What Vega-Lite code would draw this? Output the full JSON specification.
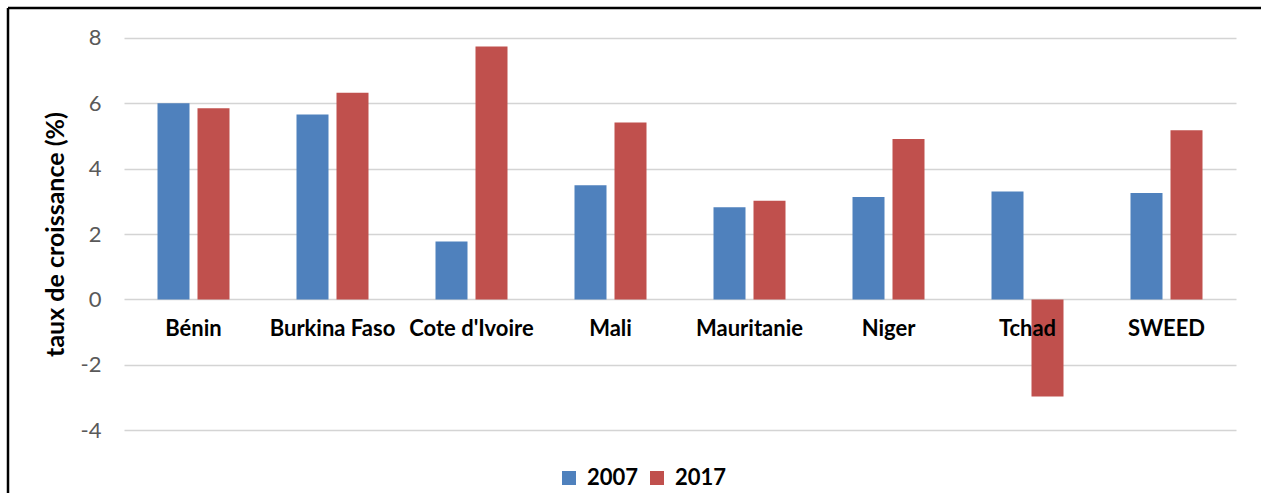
{
  "$schema": "https://vega.github.io/schema/vega-lite/v6.json",
  "width": 1253,
  "height": 485,
  "autosize": {"type": "none"},
  "padding": {"left": 8, "top": 8, "right": 0, "bottom": 0},
  "background": "white",
  "data": {
    "values": [
      {"pays": "Bénin", "annee": "2007", "taux": 6.0},
      {"pays": "Bénin", "annee": "2017", "taux": 5.84},
      {"pays": "Burkina Faso", "annee": "2007", "taux": 5.65},
      {"pays": "Burkina Faso", "annee": "2017", "taux": 6.32},
      {"pays": "Cote d'Ivoire", "annee": "2007", "taux": 1.77},
      {"pays": "Cote d'Ivoire", "annee": "2017", "taux": 7.73},
      {"pays": "Mali", "annee": "2007", "taux": 3.49},
      {"pays": "Mali", "annee": "2017", "taux": 5.41},
      {"pays": "Mauritanie", "annee": "2007", "taux": 2.82},
      {"pays": "Mauritanie", "annee": "2017", "taux": 3.02},
      {"pays": "Niger", "annee": "2007", "taux": 3.13},
      {"pays": "Niger", "annee": "2017", "taux": 4.9},
      {"pays": "Tchad", "annee": "2007", "taux": 3.3},
      {"pays": "Tchad", "annee": "2017", "taux": -2.97},
      {"pays": "SWEED", "annee": "2007", "taux": 3.25},
      {"pays": "SWEED", "annee": "2017", "taux": 5.17}
    ]
  },
  "mark": {"type": "bar"},
  "encoding": {
    "x": {
      "field": "pays",
      "type": "nominal",
      "sort": null,
      "scale": {"range": [116, 1228], "paddingInner": 0, "paddingOuter": 0},
      "axis": {
        "orient": "bottom",
        "offset": -193.5,
        "title": null,
        "domain": false,
        "ticks": false,
        "tickSize": 0,
        "grid": false,
        "labelAngle": 0,
        "labelOverlap": false,
        "labelFont": "Lato",
        "labelFontSize": 22,
        "labelFontWeight": "bold",
        "labelColor": "#000000",
        "labelPadding": 19,
        "zindex": 1
      }
    },
    "xOffset": {
      "field": "annee",
      "type": "nominal",
      "scale": {"paddingInner": 0.2, "paddingOuter": 0.8375}
    },
    "y": {
      "field": "taux",
      "type": "quantitative",
      "scale": {"domain": [-4, 8], "range": [422.3, 29.7], "nice": false, "zero": true},
      "axis": {
        "orient": "left",
        "offset": -116,
        "title": "taux de croissance (%)",
        "values": [-4, -2, 0, 2, 4, 6, 8],
        "labelExpr": "toString(datum.value)",
        "grid": true,
        "gridColor": "#d4d4d4",
        "gridWidth": 1.5,
        "domain": false,
        "ticks": false,
        "tickSize": 0,
        "labelFont": "Lato",
        "labelFontSize": 22,
        "labelColor": "#595959",
        "labelPadding": 23,
        "titleFont": "Lato",
        "titleFontSize": 25,
        "titleFontWeight": "bold",
        "titleColor": "#000000",
        "titlePadding": 12
      }
    },
    "color": {
      "field": "annee",
      "type": "nominal",
      "scale": {"domain": ["2007", "2017"], "range": ["#4F81BD", "#C0504D"]},
      "legend": {
        "orient": "none",
        "legendX": 550,
        "legendY": 459,
        "direction": "horizontal",
        "title": null,
        "padding": 0,
        "symbolType": "square",
        "symbolSize": 196,
        "symbolStrokeWidth": 0,
        "labelFont": "Lato",
        "labelFontSize": 22,
        "labelFontWeight": "bold",
        "labelColor": "#000000",
        "labelOffset": 7,
        "columnPadding": 7
      }
    }
  },
  "config": {
    "view": {"stroke": "#000000", "strokeWidth": 2.5, "strokeDash": [1253, 1738, 485, 0]}
  }
}
